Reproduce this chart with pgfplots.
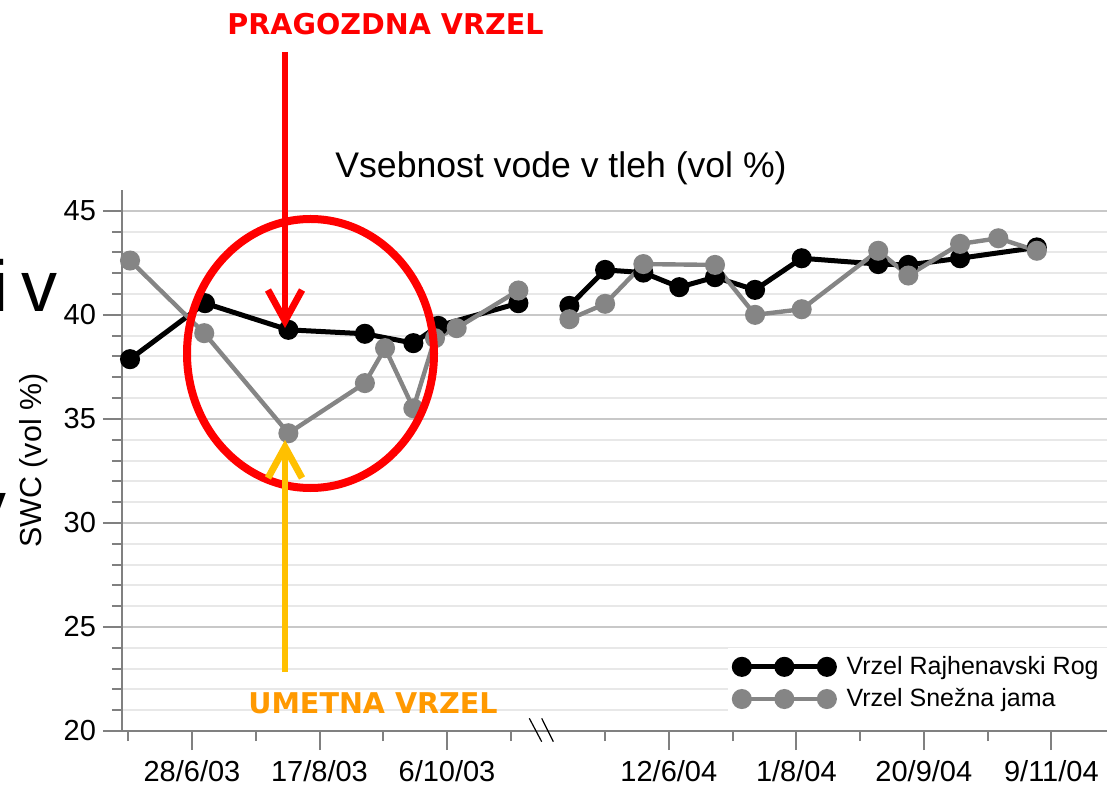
\documentclass[border=0pt]{standalone}
\usepackage{pgfplots}
\pgfplotsset{compat=1.18}
\usepackage{fontspec}
\setmainfont{Liberation Sans}
\newfontfamily\dejavu{DejaVu Sans}
\definecolor{axgray}{HTML}{808080}
\definecolor{sgray}{HTML}{858585}
\definecolor{majgrid}{HTML}{C8C8C8}
\definecolor{mingrid}{HTML}{E8E8E8}
\definecolor{umred}{HTML}{FF0000}
\definecolor{umgold}{HTML}{FFC000}
\definecolor{umorange}{HTML}{FF9900}
\begin{document}
\begin{tikzpicture}
\path[use as bounding box] (0pt,0pt) rectangle (553.5pt,-395pt);
\begin{axis}[
  at={(61pt,-365.5pt)}, anchor=south west,
  scale only axis, width=494pt, height=270.5pt,
  xmin=-27.45, xmax=360, ymin=20, ymax=46,
  axis lines=left, axis line style={-, draw=axgray, line width=1pt},
  xtick={0,50,100,187,237,287,337},
  xticklabels={28/6/03,17/8/03,6/10/03,12/6/04,1/8/04,20/9/04,9/11/04},
  minor xtick={-25,25,75,125,162,212,262,312},
  ytick={20,25,30,35,40,45},
  minor ytick={21,22,23,24,26,27,28,29,31,32,33,34,36,37,38,39,41,42,43,44},
  ymajorgrids, yminorgrids,
  major grid style={draw=majgrid, line width=1pt},
  minor grid style={draw=mingrid, line width=1pt},
  tick align=outside,
  major tick length=9.5pt, minor tick length=5pt,
  every tick/.style={draw=axgray, line width=1pt},
  tick label style={font=\fontsize{14.5}{16}\selectfont},
  xticklabel style={yshift=-1.5pt},
  /pgf/number format/assume math mode=true,
  ylabel={SWC (vol \%)},
  every axis y label/.style={at={(axis description cs:-0.0891,0.5)}, rotate=90, anchor=center,
     font=\fontsize{15.2}{17}\selectfont},
  unbounded coords=jump,
  clip=false,
  legend style={at={(rel axis cs:0.613,0.024)}, anchor=south west, draw=none, fill=white,
    font=\fontsize{12.5}{15}\selectfont, row sep=1.5pt, column sep=4pt},
  legend cell align=left,
  legend image code/.code={\draw[#1] plot coordinates {(0pt,0pt) (21.25pt,0pt) (42.5pt,0pt)};},
]
\addplot[black, line width=2.5pt, mark=*, mark size=3.75pt, mark options={solid}] coordinates {
(-24.3,37.87) (5.1,40.56) (37.8,39.28) (67.8,39.09) (86.8,38.64) (96.6,39.47) (128.0,40.56)
(140,nan)
(148.0,40.43) (162.0,42.16) (177.0,42.03) (191.1,41.33) (205.1,41.81) (220.8,41.20) (239.1,42.72)
(269.1,42.44) (280.9,42.40) (301.2,42.72) (331.3,43.24)
};
\addlegendentry{Vrzel Rajhenavski Rog}
\addplot[sgray, line width=2.2pt, mark=*, mark size=3.9pt, mark options={solid}] coordinates {
(-24.3,42.61) (4.8,39.12) (37.8,34.31) (67.8,36.72) (75.7,38.40) (86.8,35.51) (95.3,38.88) (103.8,39.36) (128.0,41.17)
(140,nan)
(148.0,39.79) (162.0,40.53) (177.0,42.44) (205.1,42.40) (220.8,40.00) (239.1,40.27) (269.1,43.08)
(280.9,41.89) (301.2,43.41) (316.2,43.68) (331.3,43.08)
};
\addlegendentry{Vrzel Sne\v{z}na jama}
\end{axis}
\begin{scope}[x=0.5pt,y=-0.5pt]
% break marks
\draw[black, line width=0.6pt] (529.3,718.3)--(541.7,741.7);
\draw[black, line width=0.6pt] (541.7,718.3)--(553.3,741.7);
% title
\node[anchor=base, inner sep=0pt, font=\fontsize{17.8}{20}\selectfont] at (561,178) {Vsebnost vode v tleh (vol \%)};
% clipped slide text
\node[anchor=base west, inner sep=0pt, font=\fontsize{36}{40}\selectfont] at (-8,312) {i};
\node[anchor=base east, inner sep=0pt, font=\fontsize{36}{40}\selectfont] at (58,312) {v};
\node[anchor=base east, inner sep=0pt, font=\fontsize{36}{40}\selectfont] at (7,531) {v};
% red ellipse
\draw[umred, line width=4pt] (310.5,353.5) ellipse [x radius=123.5, y radius=134.5];
% red arrow
\draw[umred, line width=3.4pt] (285,52) -- (285,316);
\draw[umred, line width=3.4pt] (268,290) -- (285,321) -- (302,290);
% orange arrow
\draw[umgold, line width=3.4pt] (285,672) -- (285,452);
\draw[umgold, line width=3.4pt] (268,478) -- (285,447) -- (302,478);
% texts
\node[anchor=base, inner sep=0pt, umred, font=\dejavu\bfseries\fontsize{14.3}{16}\selectfont] at (385.5,35) {PRAGOZDNA VRZEL};
\node[anchor=base, inner sep=0pt, umorange, font=\dejavu\bfseries\fontsize{14.3}{16}\selectfont] at (373,713) {UMETNA VRZEL};
\end{scope}
\end{tikzpicture}
\end{document}
